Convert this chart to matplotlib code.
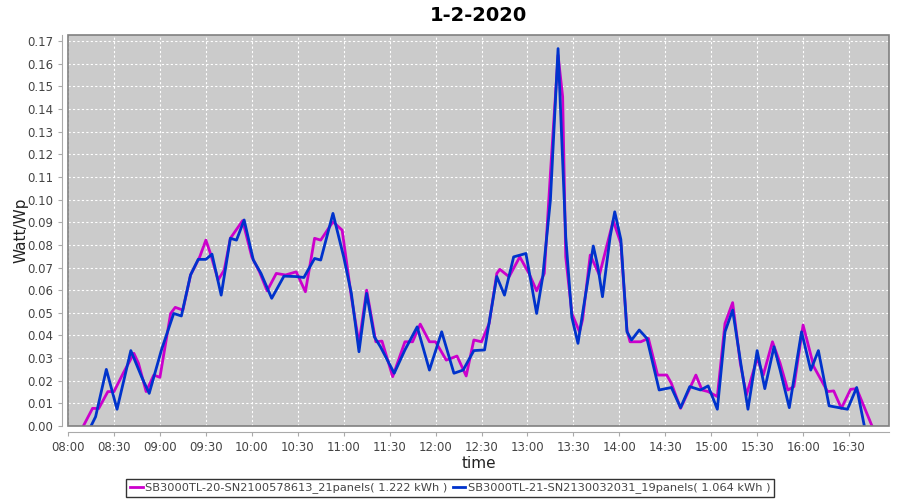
import numpy as np
import pandas as pd
import matplotlib
matplotlib.use('Agg')
import matplotlib.pyplot as plt
import matplotlib.dates as mdates
from matplotlib.patches import Rectangle

# Readings taken off the chart (time of day, Watt/Wp)
times_20 = ['08:10', '08:16', '08:20', '08:26', '08:30', '08:36', '08:43', '08:46',
            '08:51', '08:56', '09:00', '09:07', '09:10', '09:15', '09:20', '09:26',
            '09:30', '09:33', '09:38', '09:42', '09:46', '09:54', '10:00', '10:05',
            '10:10', '10:16', '10:22', '10:29', '10:35', '10:41', '10:45', '10:53',
            '10:59', '11:05', '11:10', '11:15', '11:21', '11:25', '11:32', '11:40',
            '11:45', '11:50', '11:56', '12:00', '12:07', '12:14', '12:20', '12:25',
            '12:30', '12:35', '12:40', '12:42', '12:48', '12:55', '13:01', '13:06',
            '13:11', '13:15', '13:20', '13:23', '13:25', '13:29', '13:34', '13:36',
            '13:41', '13:47', '13:50', '13:56', '14:01', '14:05', '14:07', '14:14',
            '14:19', '14:25', '14:31', '14:34', '14:40', '14:50', '14:54', '14:58',
            '15:04', '15:09', '15:14', '15:19', '15:23', '15:30', '15:34', '15:40',
            '15:45', '15:50', '15:54', '16:00', '16:07', '16:16', '16:20', '16:25',
            '16:31', '16:35', '16:45']
watt_20 = [0.0, 0.0078, 0.0077, 0.0152, 0.0152, 0.0233, 0.0321, 0.0277,
           0.0152, 0.0225, 0.0215, 0.0497, 0.0524, 0.0512, 0.0667, 0.0747,
           0.0821, 0.0762, 0.0645, 0.0689, 0.0829, 0.0907, 0.0747, 0.0681,
           0.0597, 0.0674, 0.0667, 0.0681, 0.0593, 0.0829, 0.0821, 0.0902,
           0.0865, 0.0571, 0.0365, 0.0600, 0.0372, 0.0375, 0.0218, 0.0372,
           0.0372, 0.0450, 0.0372, 0.0372, 0.0291, 0.0309, 0.0221, 0.0380,
           0.0372, 0.0453, 0.0674, 0.0692, 0.0659, 0.0747, 0.0674, 0.0597,
           0.0674, 0.1116, 0.1638, 0.1454, 0.0747, 0.0497, 0.0416, 0.0470,
           0.0755, 0.0667, 0.0747, 0.0907, 0.0806, 0.0424, 0.0372, 0.0372,
           0.0387, 0.0225, 0.0225, 0.0188, 0.0078, 0.0225, 0.0159, 0.0152,
           0.0130, 0.0453, 0.0545, 0.0277, 0.0137, 0.0299, 0.0225, 0.0372,
           0.0277, 0.0159, 0.0174, 0.0446, 0.0262, 0.0152, 0.0155, 0.0078,
           0.0162, 0.0165, 0.0]

times_21 = ['08:15', '08:18', '08:25', '08:32', '08:41', '08:48', '08:53', '09:01',
            '09:09', '09:14', '09:20', '09:25', '09:30', '09:34', '09:40', '09:46',
            '09:50', '09:55', '10:01', '10:06', '10:13', '10:21', '10:29', '10:34',
            '10:41', '10:45', '10:53', '11:00', '11:05', '11:10', '11:15', '11:20',
            '11:24', '11:33', '11:40', '11:48', '11:56', '12:04', '12:12', '12:18',
            '12:25', '12:32', '12:40', '12:45', '12:51', '12:59', '13:06', '13:10',
            '13:15', '13:20', '13:25', '13:29', '13:33', '13:36', '13:43', '13:46',
            '13:49', '13:54', '13:57', '14:01', '14:05', '14:08', '14:13', '14:18',
            '14:26', '14:34', '14:40', '14:46', '14:53', '14:58', '15:04', '15:09',
            '15:14', '15:20', '15:24', '15:30', '15:35', '15:41', '15:45', '15:51',
            '15:59', '16:05', '16:10', '16:17', '16:29', '16:35', '16:40']
watt_21 = [0.0, 0.0041, 0.0250, 0.0074, 0.0333, 0.0218, 0.0144, 0.0336,
           0.0497, 0.0486, 0.0667, 0.0736, 0.0736, 0.0759, 0.0578, 0.0829,
           0.0821, 0.0910, 0.0733, 0.0674, 0.0564, 0.0662, 0.0660, 0.0656,
           0.0740, 0.0733, 0.0939, 0.0747, 0.0586, 0.0328, 0.0586, 0.0394,
           0.0350, 0.0233, 0.0336, 0.0438, 0.0247, 0.0416, 0.0233, 0.0247,
           0.0333, 0.0336, 0.0660, 0.0578, 0.0747, 0.0762, 0.0497, 0.0660,
           0.0998, 0.1667, 0.0836, 0.0480, 0.0365, 0.0497, 0.0795, 0.0703,
           0.0571, 0.0836, 0.0946, 0.0824, 0.0416, 0.0380, 0.0424, 0.0387,
           0.0159, 0.0170, 0.0081, 0.0174, 0.0159, 0.0177, 0.0074, 0.0416,
           0.0512, 0.0247, 0.0074, 0.0333, 0.0165, 0.0350, 0.0247, 0.0081,
           0.0416, 0.0247, 0.0333, 0.0089, 0.0074, 0.0170, 0.0]

label_20 = 'SB3000TL-20-SN2100578613_21panels( 1.222 kWh )'
label_21 = 'SB3000TL-21-SN2130032031_19panels( 1.064 kWh )'

day = '2020-02-01 '
t20 = pd.to_datetime([day + t for t in times_20])
t21 = pd.to_datetime([day + t for t in times_21])

txt = '#444444'
fig = plt.figure(figsize=(9, 5), dpi=100)
ax = fig.add_axes([0.0756, 0.148, 0.912, 0.782])
ax.set_facecolor('#cbcbcb')

ax.plot(t20, watt_20, color='#cc00cc', lw=2, label=label_20, solid_joinstyle='round')
ax.plot(t21, watt_21, color='#0033cc', lw=2, label=label_21, solid_joinstyle='round')

ax.set_xlim(pd.Timestamp(day + '08:00'), pd.Timestamp(day + '16:56'))
ax.set_ylim(0, 0.1727)
ax.set_yticks(np.arange(0, 0.171, 0.01))
ax.yaxis.set_major_formatter(matplotlib.ticker.FormatStrFormatter('%.2f'))
ax.xaxis.set_major_locator(mdates.MinuteLocator(byminute=[0, 30]))
ax.xaxis.set_major_formatter(mdates.DateFormatter('%H:%M'))

ax.grid(True, color='white', ls=(0, (2, 2)), lw=0.8)
for s in ['top', 'right']:
    ax.spines[s].set_visible(False)
for s in ['left', 'bottom']:
    ax.spines[s].set_position(('outward', 4))
    ax.spines[s].set_color('#aaaaaa')
ax.add_patch(Rectangle((0, 0), 1, 1, transform=ax.transAxes, fill=False,
                       ec='#808080', lw=1.2, clip_on=False, zorder=5))
ax.tick_params(colors='#aaaaaa', labelcolor=txt, labelsize=8.5, length=3)

ax.set_title('1-2-2020', fontsize=14, fontweight='bold', pad=10)
ax.set_ylabel('Watt/Wp', fontsize=11, color='#222222')
ax.yaxis.set_label_coords(-0.048, 0.5)
ax.set_xlabel('time', fontsize=11, color='#222222', labelpad=2)

h, l = ax.get_legend_handles_labels()
leg = fig.legend(h, l, loc='upper center', bbox_to_anchor=(0.5, 0.043), ncol=2,
                 fontsize=8.2, frameon=True, fancybox=False, handlelength=1.1,
                 handletextpad=0.2, columnspacing=0.5, borderpad=0.35,
                 borderaxespad=0)
leg.get_frame().set_edgecolor('black')
leg.get_frame().set_linewidth(1)
for t in leg.get_texts():
    t.set_color(txt)

fig.savefig('out.png', dpi=100)
